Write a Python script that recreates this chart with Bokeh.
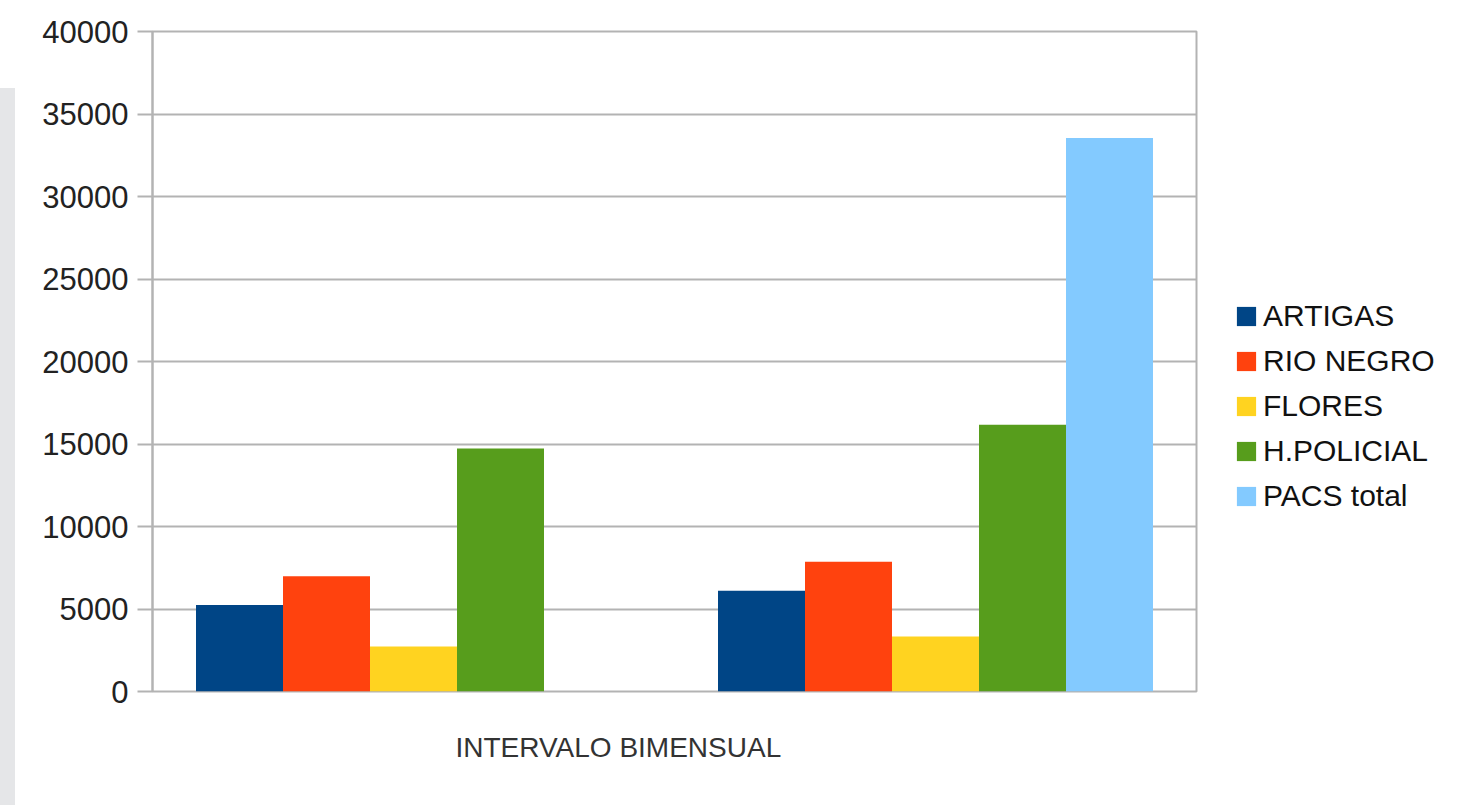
from bokeh.plotting import figure
from bokeh.models import Legend, LegendItem, Title, Div, Spacer, ColumnDataSource, Range1d, FixedTicker
from bokeh.layouts import row, column
from bokeh.embed import file_html
from bokeh.resources import INLINE

# ---- data ----
groups = ["Intervalo 1", "Intervalo 2"]
series = ["ARTIGAS", "RIO NEGRO", "FLORES", "H.POLICIAL", "PACS total"]
artigas = [5250, 6100]
rio_negro = [6980, 7870]
flores = [2730, 3330]
h_policial = [14720, 16170]
pacs_total = [0, 33550]
colors = ["#004586", "#ff420e", "#ffd320", "#579d1c", "#83caff"]
y_ticks = [0, 5000, 10000, 15000, 20000, 25000, 30000, 35000, 40000]
x_title = "INTERVALO BIMENSUAL"

values = [artigas, rio_negro, flores, h_policial, pacs_total]

FONT = "Liberation Sans"
GRID = "#b3b3b3"

p = figure(width=1445, height=805, output_backend="svg", toolbar_location=None,
           x_range=Range1d(0, len(groups)), y_range=Range1d(0, 40000),
           min_border_left=137, min_border_right=264, min_border_top=31, min_border_bottom=0)
p.frame_width = 1044
p.frame_height = 660

bar_w = 1.0 / 6.0
n = len(series)
items = []
for i, (name, vals, col) in enumerate(zip(series, values, colors)):
    off = (i - (n - 1) / 2.0) * bar_w
    xs = [g + 0.5 + off for g in range(len(groups))]
    src = ColumnDataSource(dict(x=xs, top=vals))
    r = p.vbar(x="x", top="top", width=bar_w, source=src, fill_color=col, line_color=None)
    items.append(LegendItem(label=name, renderers=[r]))

p.xaxis.visible = False
p.xgrid.visible = False
p.ygrid.grid_line_color = GRID
p.ygrid.grid_line_width = 2
p.ygrid.ticker = FixedTicker(ticks=y_ticks)

ya = p.yaxis[0]
ya.ticker = FixedTicker(ticks=y_ticks)
ya.axis_line_color = GRID
ya.axis_line_width = 2
ya.major_tick_line_color = GRID
ya.major_tick_line_width = 2
ya.major_tick_out = 15
ya.major_tick_in = 0
ya.minor_tick_line_color = None
ya.major_label_standoff = 9
ya.major_label_text_font = FONT
ya.major_label_text_font_size = "31px"
ya.major_label_text_color = "#222222"

p.outline_line_color = GRID
p.outline_line_width = 2
p.background_fill_color = "white"
p.border_fill_color = "white"

legend = Legend(items=items, location=(38, 178), orientation="vertical")
legend.label_text_font = FONT
legend.label_text_font_size = "30px"
legend.label_text_color = "#111111"
legend.glyph_width = 24
legend.glyph_height = 24
legend.label_standoff = 5
legend.spacing = 11
legend.padding = 10
legend.border_line_color = None
legend.background_fill_alpha = 0
p.add_layout(legend, "right")

xt = Title(text=x_title, align="left", offset=303, standoff=76,
           text_font=FONT, text_font_size="28px", text_font_style="normal",
           text_color="#333333")
p.add_layout(xt, "below")

strip = column(Spacer(width=15, height=88, margin=0),
               Div(width=15, height=717, margin=0, styles={"background-color": "#e5e6e8"}))
layout = row(strip, p)

open("out.html", "w").write(file_html(layout, INLINE))
